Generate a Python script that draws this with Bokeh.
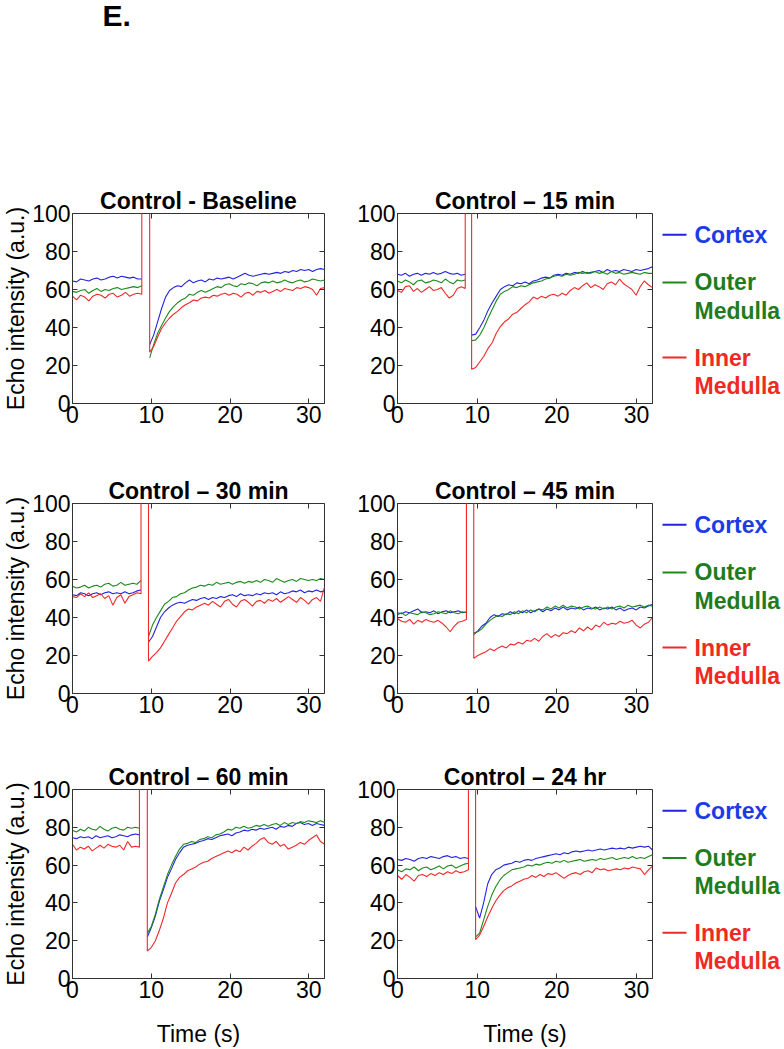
import numpy as np
from bokeh.plotting import figure
from bokeh.layouts import column, row
from bokeh.models import Range1d, Label, LinearAxis, FixedTicker
from bokeh.embed import file_html
from bokeh.resources import INLINE
from bokeh.core.properties import value

FONT = "Liberation Sans"

# ---------------- data ----------------
panel_titles = ["Control - Baseline", "Control \u2013 15 min", "Control \u2013 30 min",
                "Control \u2013 45 min", "Control \u2013 60 min", "Control \u2013 24 hr"]
spike_on = [8.8, 8.5, 8.7, 8.65, 8.5, 8.9]     # s, bolus arrival (signal saturates)
spike_off = [9.8, 9.3, 9.65, 9.57, 9.5, 9.8]   # s, destruction pulse end
spike_level = 140
t_end = 32
x_ticks = [0, 10, 20, 30]
y_ticks = [0, 20, 40, 60, 80, 100]
series_names = ["Cortex", "Outer Medulla", "Inner Medulla"]
series_colors = ["#2323e0", "#1b8a1b", "#f02828"]
legend_text_colors = ["#1b3be6", "#1e7c1e", "#ee2a22"]
legend_first = ["Cortex", "Outer", "Inner"]
legend_second = ["", "Medulla", "Medulla"]
legend_y = [88.8, 63.7, 24.2]

# Panel 1: Control - Baseline
baseline_cortex_pre = [64.5, 64, 65.5, 65, 64.5, 65.5, 66, 65, 65.5, 66.5, 67, 66, 67, 66.5, 66, 66.5, 65.5, 65.5]
baseline_cortex_post = [31, 36, 43, 50, 56, 59.5, 61, 62, 61.5, 63.5, 65, 63.5, 64.5, 65, 64, 65.5, 65, 66, 65.5, 66,
                        66.5, 65.5, 66.5, 67.5, 68.5, 67.5, 67, 67.5, 68, 68.5, 68, 68.5, 69, 68.5, 69.5, 69, 70, 69.5,
                        70.5, 70, 70.5, 69.5, 70.5, 71, 70.5]
baseline_outer_pre = [59, 58.5, 59.5, 60, 58, 59.5, 60.5, 59, 60, 59.5, 60.5, 61, 60, 60.5, 61, 61.5, 61, 62]
baseline_outer_post = [24, 31, 37, 41, 45, 48.5, 51, 53, 54.5, 55.5, 57.5, 57, 58.5, 59.5, 58.5, 59.5, 60.5, 61.5, 61,
                       62.5, 63, 62, 61.5, 63, 62.5, 63.5, 63, 62, 63.5, 64, 63.5, 64.5, 63.5, 64, 65, 64, 63.5, 64.5,
                       65, 64, 64.5, 65.5, 65, 64.5, 65]
baseline_inner_pre = [56.5, 54.5, 57, 56, 54, 56.5, 57.5, 57, 55.5, 57.5, 58, 56, 57, 58.5, 56.5, 57.5, 58, 57.5]
baseline_inner_post = [27, 30, 35, 39.5, 42.5, 45, 47, 48.5, 50.5, 52, 53, 54.5, 54, 55.5, 56, 55.5, 57, 56.5, 57.5,
                       58, 57, 58, 57.5, 56, 58, 58.5, 57, 59, 58.5, 59.5, 58, 59, 60, 59, 60.5, 60, 59.5, 61, 60.5,
                       61.5, 61, 60, 57, 60.5, 61]

# Panel 2: Control - 15 min
min15_cortex_pre = [68, 67.5, 68.5, 67, 68, 68.5, 67.5, 68.5, 68, 69, 68, 68.5, 69.5, 68.5, 68, 68.5, 67.5, 68]
min15_cortex_post = [36, 36.5, 40, 44, 49, 53, 56.5, 60, 61.5, 62.5, 62, 63.5, 63, 64, 63, 64.5, 65, 66, 66.5, 66,
                     67.5, 68, 67.5, 68.5, 68, 69, 68.5, 69.5, 68.5, 69, 69.5, 70, 69, 70.5, 69.5, 70, 69.5, 70.5, 70,
                     69.5, 70.5, 70, 70.5, 71, 72]
min15_outer_pre = [64.5, 63.5, 65, 64, 62.5, 64.5, 65, 63.5, 64, 65, 64.5, 63.5, 65.5, 64, 63, 65, 64.5, 65]
min15_outer_post = [33, 33.5, 36, 40, 45, 49.5, 54, 57.5, 59, 60, 61.5, 61, 62, 61.5, 62.5, 63.5, 64, 64.5, 65.5, 66,
                    67, 67.5, 67, 68, 67.5, 68, 69, 68.5, 69, 68.5, 69.5, 68.5, 69, 68, 69.5, 68.5, 69, 68, 68.5, 69,
                    68.5, 68, 69, 68.5, 68.5]
min15_inner_pre = [59.5, 58.5, 61.5, 62, 59, 60.5, 58.5, 60, 61.5, 59.5, 60, 61, 58, 55.5, 57, 60.5, 61.5, 60.5]
min15_inner_post = [18, 19, 22, 25, 29, 32, 37, 40.5, 43, 44.5, 47, 48, 50, 52, 53.5, 56, 55, 56.5, 55.5, 57, 57.5,
                    56.5, 58, 57, 59.5, 61, 60, 62, 63.5, 61, 62.5, 61.5, 60, 63, 64, 62.5, 65.5, 63, 61.5, 60, 57,
                    61.5, 64.5, 62.5, 61]

# Panel 3: Control - 30 min
min30_cortex_pre = [52, 51.5, 53, 52.5, 51.5, 52.5, 53, 52, 53, 53.5, 52.5, 53, 52.5, 53.5, 52.5, 53, 54, 54.5]
min30_cortex_post = [27, 30, 35, 40, 43, 45, 46.5, 47.5, 48, 47.5, 48.5, 49.5, 49, 50, 50.5, 49.5, 50.5, 50, 51, 50.5,
                     51.5, 52, 51, 52.5, 51.5, 52, 51.5, 52.5, 52, 53, 52.5, 53, 52, 53.5, 52.5, 53, 54, 53.5, 54.5,
                     53, 54, 53.5, 54.5, 53.5, 54]
min30_outer_pre = [56.5, 55.5, 56, 57, 55.5, 56.5, 57, 56, 57.5, 58, 56.5, 57, 58.5, 57, 57.5, 58, 57.5, 59.5]
min30_outer_post = [30, 36, 40, 43.5, 47, 48.5, 50.5, 51, 52.5, 53, 54.5, 55.5, 56, 57, 56.5, 57.5, 57, 58.5, 57.5, 58,
                    58.5, 57.5, 58.5, 59, 58, 59, 58.5, 59.5, 58.5, 60, 59.5, 58.5, 60.5, 59.5, 58.5, 59.5, 60, 59,
                    60.5, 60, 59.5, 60, 59.5, 60.5, 60]
min30_inner_pre = [51, 50.5, 52.5, 51, 53, 50.5, 51.5, 52.5, 50, 51.5, 46.5, 50.5, 52, 47.5, 51, 52, 53, 52.5]
min30_inner_post = [17, 19.5, 21.5, 24, 27.5, 31, 34.5, 38, 40.5, 43, 44.5, 44, 45.5, 46.5, 47.5, 46.5, 48.5, 47, 45.5,
                    48.5, 49.5, 47, 45.5, 48.5, 49.5, 48, 46, 48.5, 49, 47.5, 49.5, 48.5, 50, 48, 49.5, 51, 49.5, 48,
                    50.5, 49, 47, 49.5, 50.5, 48.5, 56]

# Panel 4: Control - 45 min
min45_cortex_pre = [42.5, 42, 43, 42.5, 43.5, 44.5, 42.5, 43, 42.5, 43.5, 42, 43, 43.5, 42.5, 43, 43.5, 42.5, 43]
min45_cortex_post = [31, 33, 35.5, 37, 40, 41.5, 40.5, 42, 41.5, 43, 42, 43.5, 42.5, 44, 42.5, 43.5, 44.5, 43, 44.5,
                     43.5, 45, 44, 45.5, 44, 45, 44.5, 45.5, 44, 45, 44.5, 45.5, 44, 45, 44.5, 45.5, 44, 45, 43.5,
                     44.5, 45, 44, 45.5, 45, 46, 47]
min45_outer_pre = [41.5, 42.5, 41, 42.5, 42, 41.5, 43, 42.5, 41.5, 42, 43, 42.5, 42, 43.5, 42.5, 42, 43, 42.5]
min45_outer_post = [32, 32.5, 34, 36.5, 38.5, 40, 41, 40.5, 42, 41.5, 43, 42, 43.5, 42.5, 44, 43, 44.5, 44, 45.5, 44.5,
                    46, 45, 46.5, 45, 46, 45.5, 44.5, 45.5, 46, 45, 44.5, 45.5, 44.5, 45.5, 44.5, 45.5, 46, 45, 46.5,
                    45.5, 46, 46.5, 45.5, 46.5, 46]
min45_inner_pre = [39.5, 38, 37.5, 39, 36.5, 38.5, 37.5, 39, 38, 37.5, 38.5, 37, 35, 32.5, 35.5, 37.5, 38, 39]
min45_inner_post = [18.5, 20, 21, 22, 23.5, 22.5, 24, 25, 24, 26, 25.5, 27, 26, 28, 27.5, 29, 27.5, 30, 31.5, 29.5, 31,
                    30, 32, 31.5, 33, 32, 34.5, 33, 35, 33.5, 36, 35, 37.5, 36, 37, 36.5, 38, 37, 37.5, 38.5, 36,
                    34.5, 36.5, 37.5, 40]

# Panel 5: Control - 60 min
min60_cortex_pre = [74.5, 74, 75, 74.5, 75, 74, 75.5, 74.5, 75, 75.5, 74.5, 75, 76, 75.5, 75, 76, 76.5, 76]
min60_cortex_post = [22, 27, 33, 41, 47, 53.5, 58, 63, 66.5, 69.5, 70.5, 71, 71.5, 72.5, 73, 74, 73.5, 74.5, 75.5, 76,
                     76.5, 75.5, 77, 77.5, 78.5, 78, 79, 78.5, 79.5, 79, 79.5, 80, 79, 80.5, 80, 81, 80.5, 82, 82.5,
                     81.5, 82, 81, 82, 81.5, 81]
min60_outer_pre = [78.5, 77.5, 79, 78, 80, 79, 78.5, 80.5, 79, 78, 79.5, 80, 79, 78.5, 80, 79.5, 80, 79.5]
min60_outer_post = [24, 27.5, 34, 42, 48.5, 55, 60, 64.5, 68.5, 71, 71.5, 72.5, 72, 73.5, 74, 75, 74.5, 76, 76.5, 77.5,
                    79, 78.5, 80, 79.5, 80.5, 79.5, 80, 81, 80.5, 81.5, 80.5, 81.5, 82, 81, 82.5, 81.5, 82.5, 82, 83,
                    82.5, 83.5, 83, 82.5, 83.5, 82.5]
min60_inner_pre = [71, 68, 69.5, 68.5, 70, 67.5, 69, 70.5, 69, 71, 70, 69.5, 70.5, 68, 72.5, 69.5, 70, 69.5]
min60_inner_post = [14.5, 16.5, 20, 25.5, 32, 40, 45, 50.5, 53.5, 55, 57, 58, 59, 60.5, 61.5, 62, 63.5, 64.5, 65.5,
                    66.5, 67.5, 66.5, 68, 67, 69.5, 68, 70, 71.5, 73.5, 74.5, 72, 71, 72.5, 70, 71, 68.5, 69.5, 70.5,
                    72, 71, 73, 74.5, 76, 72.5, 71]

# Panel 6: Control - 24 hr
hr24_cortex_pre = [63, 62.5, 63.5, 63, 62, 63.5, 64, 63.5, 64.5, 64, 63.5, 64.5, 65, 64, 64.5, 63.5, 64, 63.5]
hr24_cortex_post = [38, 32, 40, 50, 55, 57.5, 58.5, 60, 60.5, 61, 62, 61.5, 62.5, 63, 62.5, 63.5, 64, 64.5, 65, 65.5,
                    66, 65.5, 66.5, 66, 67, 67.5, 67, 67.5, 68, 67.5, 68, 68.5, 68, 68.5, 69, 68.5, 69, 68.5, 69.5, 69,
                    69.5, 70, 69.5, 70, 68]
hr24_outer_pre = [57.5, 56.5, 58, 57.5, 59, 57, 58.5, 59, 57.5, 58.5, 59.5, 58, 59.5, 60, 58.5, 59.5, 60.5, 61]
hr24_outer_post = [22, 24, 31, 38, 44, 48.5, 52, 54.5, 56, 57.5, 58, 58.5, 59, 60, 59.5, 60.5, 60, 61, 61.5, 61, 62,
                   61.5, 62.5, 61.5, 62, 62.5, 63, 62, 62.5, 63, 62.5, 63.5, 63, 63.5, 64, 63, 63.5, 64, 63.5, 64.5,
                   63.5, 64, 63.5, 64.5, 65.5]
hr24_inner_pre = [54.5, 52.5, 55, 53.5, 51.5, 54.5, 55, 54, 55.5, 54.5, 56, 55, 56.5, 55.5, 57, 56, 56.5, 57.5]
hr24_inner_post = [20.5, 23, 27.5, 32.5, 37, 41, 44, 46.5, 48, 49, 50.5, 51.5, 52.5, 53, 54.5, 53.5, 55, 54, 55.5, 55,
                   56, 54.5, 53, 54.5, 55.5, 56, 55, 56.5, 57, 56, 58.5, 57.5, 58, 57, 57.5, 58, 57.5, 58.5, 58, 59,
                   58.5, 58, 55, 57.5, 59.5]

panel_series = [
    [(baseline_cortex_pre, baseline_cortex_post), (baseline_outer_pre, baseline_outer_post), (baseline_inner_pre, baseline_inner_post)],
    [(min15_cortex_pre, min15_cortex_post), (min15_outer_pre, min15_outer_post), (min15_inner_pre, min15_inner_post)],
    [(min30_cortex_pre, min30_cortex_post), (min30_outer_pre, min30_outer_post), (min30_inner_pre, min30_inner_post)],
    [(min45_cortex_pre, min45_cortex_post), (min45_outer_pre, min45_outer_post), (min45_inner_pre, min45_inner_post)],
    [(min60_cortex_pre, min60_cortex_post), (min60_outer_pre, min60_outer_post), (min60_inner_pre, min60_inner_post)],
    [(hr24_cortex_pre, hr24_cortex_post), (hr24_outer_pre, hr24_outer_post), (hr24_inner_pre, hr24_inner_post)],
]

# ---------------- layout ----------------
FRAME_H = 190
TOP_B = 45
ROW_BOTTOMS = [55, 51, 70]
LEFT_W, LEFT_BL, LEFT_BR = 340, 68, 16
RIGHT_W, RIGHT_BL, RIGHT_BR = 318, 57, 6
LEG_W = 126
HEADER_H = 168
FS = "23px"
FRAME_COLOR = "#333333"


def style_main_axis(ax, ticks):
    ax.ticker = FixedTicker(ticks=ticks)
    ax.axis_line_color = FRAME_COLOR
    ax.major_tick_in = 5
    ax.major_tick_out = 0
    ax.major_tick_line_color = FRAME_COLOR
    ax.minor_tick_line_color = None
    ax.major_label_text_font = FONT
    ax.major_label_text_font_size = FS
    ax.major_label_text_color = "black"
    ax.axis_label_text_font = FONT
    ax.axis_label_text_font_size = FS
    ax.axis_label_text_font_style = "normal"
    ax.axis_label_text_color = "black"


def tick_only_axis(ticks):
    ax = LinearAxis(ticker=FixedTicker(ticks=ticks))
    ax.axis_line_color = None
    ax.major_tick_in = 5
    ax.major_tick_out = 0
    ax.major_tick_line_color = FRAME_COLOR
    ax.minor_tick_line_color = None
    ax.major_label_text_font_size = "0px"
    ax.major_label_text_color = None
    ax.major_label_standoff = 0
    return ax


def make_panel(idx, left_col, bottom_row, bborder):
    w = LEFT_W if left_col else RIGHT_W
    h = TOP_B + FRAME_H + bborder
    p = figure(width=w, height=h, x_range=Range1d(0, t_end), y_range=Range1d(0, 100),
               output_backend="svg", toolbar_location=None,
               min_border_left=LEFT_BL if left_col else RIGHT_BL,
               min_border_right=LEFT_BR if left_col else RIGHT_BR,
               min_border_top=TOP_B, min_border_bottom=bborder,
               title=panel_titles[idx])
    p.title.text_font = FONT
    p.title.text_font_size = FS
    p.title.text_font_style = "bold"
    p.title.text_color = "black"
    p.title.align = "center"
    p.title.standoff = 0
    p.xgrid.visible = False
    p.ygrid.visible = False
    p.outline_line_color = FRAME_COLOR
    p.outline_line_alpha = 1.0
    p.outline_line_width = 1

    on, off = spike_on[idx], spike_off[idx]
    for k, ((pre, post), color) in enumerate(zip(panel_series[idx], series_colors)):
        t_pre = np.linspace(0, on, len(pre))
        t_post = np.linspace(off, t_end, len(post))
        if k == 2:
            # inner medulla trace drawn with its saturated bolus spike on top of the others
            t = np.concatenate([t_pre, [on, off], t_post])
            y = list(pre) + [spike_level, spike_level] + list(post)
        else:
            t = np.concatenate([t_pre, [np.nan], t_post])
            y = list(pre) + [np.nan] + list(post)
        p.line(t, y, line_color=color, line_width=1.1)

    xax = p.below[0]
    yax = p.left[0]
    style_main_axis(xax, x_ticks)
    style_main_axis(yax, y_ticks)
    xax.major_label_standoff = 2
    yax.major_label_standoff = 2
    if left_col:
        yax.axis_label = "Echo intensity (a.u.)"
        yax.axis_label_standoff = 0
    if bottom_row:
        xax.axis_label = "Time (s)"
        xax.axis_label_standoff = 20

    p.add_layout(tick_only_axis(y_ticks), "right")
    p.add_layout(tick_only_axis(x_ticks), "above")
    return p


def make_legend(bborder):
    h = TOP_B + FRAME_H + bborder
    p = figure(width=LEG_W, height=h, x_range=Range1d(0, LEG_W), y_range=Range1d(0, 100),
               output_backend="svg", toolbar_location=None,
               min_border_left=0, min_border_right=0, min_border_top=TOP_B, min_border_bottom=bborder)
    p.axis.visible = False
    p.grid.visible = False
    p.outline_line_color = None
    seg_x0, seg_x1, txt_x, line_gap = 4, 28, 36, 14.8
    for yv, first, second, lc, tc in zip(legend_y, legend_first, legend_second, series_colors, legend_text_colors):
        p.segment(x0=[seg_x0], y0=[yv], x1=[seg_x1], y1=[yv], line_color=lc, line_width=2)
        p.text(x=[txt_x], y=[yv], text=[first], text_color=tc, text_font=value(FONT),
               text_font_size=FS, text_font_style="bold", text_baseline="middle", text_align="left")
        if second:
            p.text(x=[txt_x], y=[yv - line_gap], text=[second], text_color=tc, text_font=value(FONT),
                   text_font_size=FS, text_font_style="bold", text_baseline="middle", text_align="left")
    return p


total_w = LEFT_W + RIGHT_W + LEG_W
header = figure(width=total_w, height=HEADER_H, x_range=Range1d(0, total_w),
                y_range=Range1d(0, HEADER_H), output_backend="svg", toolbar_location=None,
                min_border_left=0, min_border_right=0, min_border_top=0, min_border_bottom=0)
header.axis.visible = False
header.grid.visible = False
header.outline_line_color = None
header.add_layout(Label(x=102, y=HEADER_H - 15, text="E.", text_font=FONT, text_font_size="30px",
                        text_font_style="bold", text_baseline="alphabetic", text_align="left", text_color="black"))

rows = [header]
for r in range(3):
    bb = ROW_BOTTOMS[r]
    rows.append(row(make_panel(2 * r, True, r == 2, bb),
                    make_panel(2 * r + 1, False, r == 2, bb),
                    make_legend(bb)))

layout = column(*rows)
open("out.html", "w").write(file_html(layout, INLINE))
